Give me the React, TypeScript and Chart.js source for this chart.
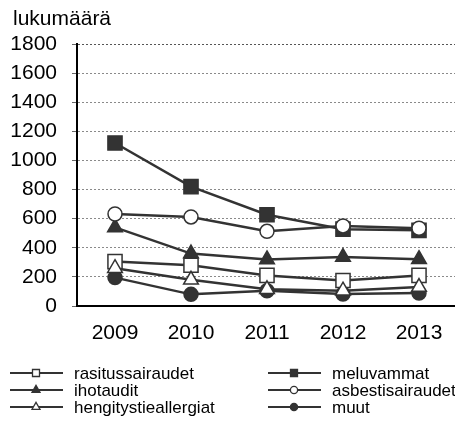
import React, { useEffect, useRef } from "react";
import { Chart, registerables } from "chart.js";

Chart.register(...registerables);

// ---- data ----
const years = ["2009", "2010", "2011", "2012", "2013"];
const rasitussairaudet = [305, 280, 210, 175, 210];
const meluvammat = [1120, 820, 627, 528, 520];
const ihotaudit = [540, 360, 320, 336, 322];
const asbestisairaudet = [632, 612, 513, 550, 534];
const hengitystieallergiat = [260, 180, 115, 105, 130];
const muut = [195, 80, 105, 82, 90];
const yTitle = "lukumäärä";
const yMin = 0;
const yMax = 1800;
const yStep = 200;

const DARK = "#333333";
const FONT = "'Liberation Sans', Arial, sans-serif";

type Series = {
  label: string;
  data: number[];
  style: "rect" | "circle" | "triangle";
  filled: boolean;
  order: number;
  radius: number;
};

// legend order (row-major, two columns)
const series: Series[] = [
  { label: "rasitussairaudet", data: rasitussairaudet, style: "rect", filled: false, order: 3, radius: 10 },
  { label: "meluvammat", data: meluvammat, style: "rect", filled: true, order: 5, radius: 10 },
  { label: "ihotaudit", data: ihotaudit, style: "triangle", filled: true, order: 6, radius: 8.5 },
  { label: "asbestisairaudet", data: asbestisairaudet, style: "circle", filled: false, order: 2, radius: 7 },
  { label: "hengitystieallergiat", data: hengitystieallergiat, style: "triangle", filled: false, order: 1, radius: 8.5 },
  { label: "muut", data: muut, style: "circle", filled: true, order: 4, radius: 7 },
];

function drawMarker(ctx: CanvasRenderingContext2D, style: string, filled: boolean, x: number, y: number) {
  ctx.save();
  ctx.beginPath();
  if (style === "rect") {
    ctx.rect(x - 3.5, y - 3.5, 7, 7);
  } else if (style === "circle") {
    ctx.arc(x, y, 3.6, 0, Math.PI * 2);
  } else {
    const r = 4.6;
    ctx.moveTo(x, y - r);
    ctx.lineTo(x + r * 0.866, y + r * 0.5);
    ctx.lineTo(x - r * 0.866, y + r * 0.5);
    ctx.closePath();
  }
  ctx.fillStyle = filled ? DARK : "#ffffff";
  ctx.fill();
  ctx.lineWidth = 1.3;
  ctx.strokeStyle = DARK;
  ctx.stroke();
  ctx.restore();
}

const overlayPlugin = {
  id: "overlay",
  afterDraw(chart: any) {
    const ctx: CanvasRenderingContext2D = chart.ctx;
    ctx.save();
    ctx.fillStyle = "#000";
    ctx.font = `21px ${FONT}`;
    ctx.textAlign = "left";
    ctx.textBaseline = "alphabetic";
    ctx.fillText(yTitle, 13, 25);

    const cols = [10, 268];
    const rows = [373, 390, 407];
    series.forEach((s, i) => {
      const x0 = cols[i % 2];
      const y = rows[Math.floor(i / 2)];
      ctx.beginPath();
      ctx.moveTo(x0, y);
      ctx.lineTo(x0 + 53, y);
      ctx.lineWidth = 2;
      ctx.strokeStyle = DARK;
      ctx.stroke();
      drawMarker(ctx, s.style, s.filled, x0 + 26, y);
      ctx.fillStyle = "#000";
      ctx.font = `17px ${FONT}`;
      ctx.textBaseline = "alphabetic";
      ctx.fillText(s.label, x0 + 64, y + 6);
    });
    ctx.restore();
  },
};

export default function App() {
  const ref = useRef<HTMLCanvasElement | null>(null);

  useEffect(() => {
    if (!ref.current) return;
    const chart = new Chart(ref.current, {
      type: "line",
      data: {
        labels: years,
        datasets: series.map((s) => ({
          label: s.label,
          data: s.data,
          borderColor: DARK,
          borderWidth: 2.5,
          backgroundColor: DARK,
          pointStyle: s.style,
          pointRadius: s.radius,
          pointBackgroundColor: s.filled ? DARK : "#ffffff",
          pointBorderColor: DARK,
          pointBorderWidth: 1.5,
          tension: 0,
          fill: false,
          order: s.order,
          clip: false as any,
        })),
      },
      options: {
        responsive: false,
        animation: false,
        layout: { padding: { top: 44, left: 0, right: 13, bottom: 86 } },
        plugins: {
          legend: { display: false },
          tooltip: { enabled: false },
          title: { display: false },
        },
        scales: {
          x: {
            type: "category",
            offset: true,
            grid: { display: false, drawTicks: false },
            border: { display: true, color: "#000", width: 2 },
            ticks: { color: "#000", font: { size: 21, family: FONT }, padding: 15, maxRotation: 0 },
            afterFit: (s: any) => {
              s.height = 40;
            },
          },
          y: {
            min: yMin,
            max: yMax,
            ticks: {
              stepSize: yStep,
              color: "#000",
              font: { size: 21, family: FONT },
              padding: 15,
              callback: (v: any) => String(v),
            },
            grid: {
              color: (c: any) => (c.tick && c.tick.value === 0 ? "rgba(0,0,0,0)" : c.tick && c.tick.value === yMax ? "#555" : "#8a8a8a"),
              lineWidth: 1,
              drawTicks: true,
              tickLength: 5,
              tickColor: "#666",
            },
            border: { display: true, color: "#000", width: 2, dash: [2, 2] },
            afterFit: (s: any) => {
              s.width = 77;
            },
          },
        },
      },
      plugins: [overlayPlugin],
    });
    return () => chart.destroy();
  }, []);

  return (
    <div
      style={{
        position: "fixed",
        left: 0,
        top: 0,
        width: 455,
        height: 432,
        overflow: "hidden",
        background: "#fff",
      }}
    >
      <canvas ref={ref} width={470} height={432} style={{ display: "block", width: 470, height: 432 }} />
    </div>
  );
}
